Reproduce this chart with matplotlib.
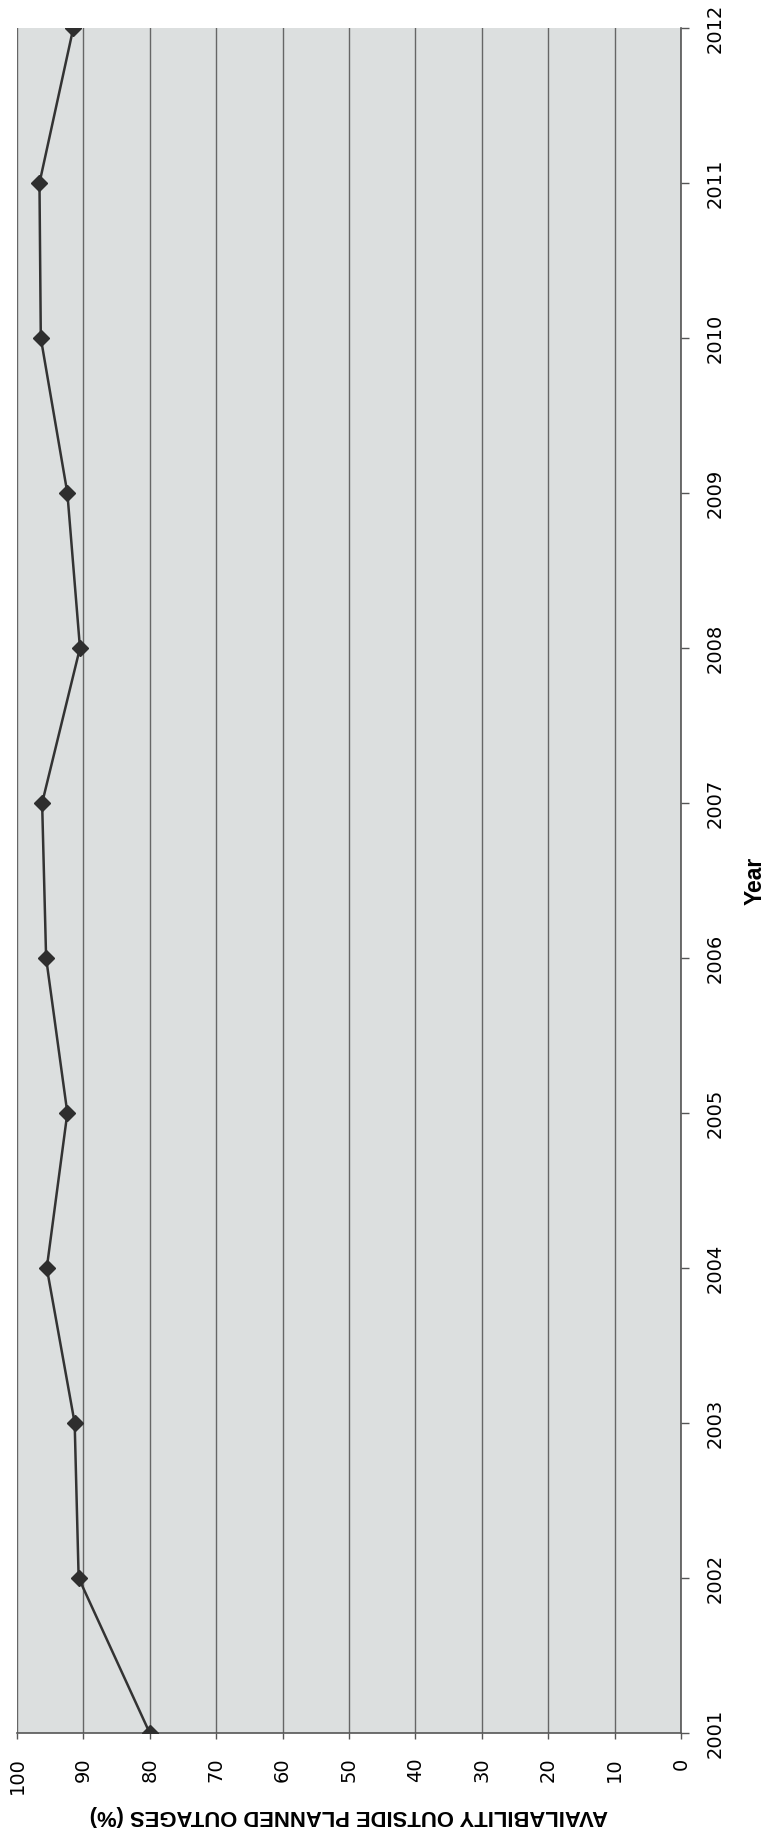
import matplotlib.pyplot as plt

plt.rcParams['font.family'] = ['DejaVu Sans']

# Availability outside planned outages, per year
years = [2001, 2002, 2003, 2004, 2005, 2006, 2007, 2008, 2009, 2010, 2011, 2012]
availability = [80.0, 90.7, 91.3, 95.5, 92.4, 95.6, 96.2, 90.5, 92.4, 96.4, 96.6, 91.5]
value_ticks = [0, 10, 20, 30, 40, 50, 60, 70, 80, 90, 100]

fig = plt.figure(figsize=(7.68, 18.42), dpi=100)
ax = fig.add_axes([0.022, 0.0592, 0.8646, 0.9256])
ax.set_facecolor('#dcdfdf')

# chart is laid on its side: values run right-to-left, years bottom-to-top
ax.plot(availability, years, color='#333333', lw=1.8, marker='D', ms=8.5,
        markerfacecolor='#2e2e2e', markeredgecolor='#2e2e2e', zorder=5)

ax.set_xlim(100, 0)
ax.set_ylim(2001, 2012)
ax.set_xticks(value_ticks)
ax.set_yticks(years)
ax.xaxis.grid(True, color='#666666', lw=1.0)
ax.set_axisbelow(True)

ax.yaxis.tick_right()
ax.yaxis.set_label_position('right')

for side in ['top', 'left']:
    ax.spines[side].set_visible(False)
for side in ['bottom', 'right']:
    ax.spines[side].set_color('#555555')
    ax.spines[side].set_linewidth(1.2)

ax.tick_params(axis='x', direction='out', length=4.5, width=1, color='#555555',
               pad=13, labelsize=14, labelrotation=90)
ax.tick_params(axis='y', direction='out', length=5.8, width=1, color='#555555',
               pad=12, labelsize=14, labelrotation=90)
for lbl in ax.get_yticklabels():
    lbl.set_va('center')
    lbl.set_ha('left')

ax.set_xlabel('AVAILABILITY OUTSIDE PLANNED OUTAGES (%)', rotation=180,
              fontfamily='Liberation Sans', fontweight='bold', fontsize=15.8,
              labelpad=8)
ax.set_ylabel('Year', rotation=90, fontfamily='Liberation Sans',
              fontweight='bold', fontsize=16.5, labelpad=14)

fig.savefig('out.png', dpi=100, facecolor='white')
